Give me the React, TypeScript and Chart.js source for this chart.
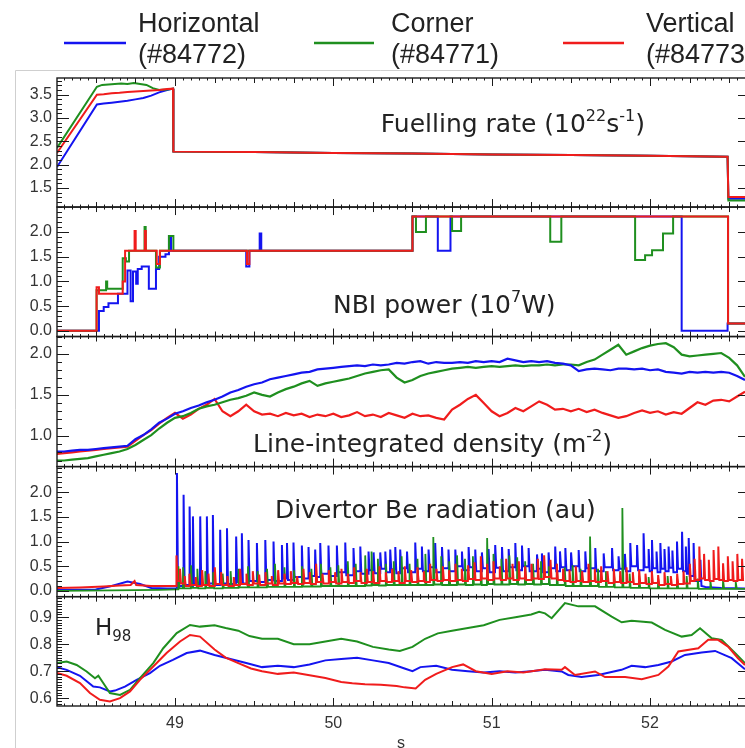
import React, { useEffect, useRef } from 'react';
import { Chart, registerables } from 'chart.js';

Chart.register(...registerables);

const C_BLUE = '#1414f0';
const C_GREEN = '#1f8f1f';
const C_RED = '#f01c1c';

// ---------------- legend ----------------
const legendNames = ['Horizontal', 'Corner', 'Vertical'];
const legendShots = ['(#84772)', '(#84771)', '(#84773)'];
const legendColors = [C_BLUE, C_GREEN, C_RED];

// ---------------- axes ----------------
const xTickLabels = [49, 50, 51, 52];
const fuelTicks = [1.5, 2.0, 2.5, 3.0, 3.5];
const nbiTicks = [0.0, 0.5, 1.0, 1.5, 2.0];
const denTicks = [1.0, 1.5, 2.0];
const beTicks = [0.0, 0.5, 1.0, 1.5, 2.0];
const h98Ticks = [0.6, 0.7, 0.8, 0.9];

// ---------------- panel 1: fuelling rate ----------------
const fuelT_red = [48.255, 48.507, 48.55, 48.60, 48.65, 48.70, 48.75, 48.80, 48.85, 48.90, 48.95, 48.988, 48.990, 49.5, 50.0, 50.5, 51.0, 51.5, 52.0, 52.490, 52.495, 52.60];
const fuelV_red = [2.25, 3.50, 3.51, 3.53, 3.54, 3.56, 3.57, 3.58, 3.59, 3.60, 3.62, 3.63, 2.28, 2.27, 2.25, 2.24, 2.22, 2.21, 2.19, 2.17, 1.31, 1.31];
const fuelT_green = [48.255, 48.507, 48.54, 48.58, 48.62, 48.66, 48.70, 48.74, 48.78, 48.82, 48.86, 48.90, 48.95, 48.988, 48.990, 49.5, 50.0, 50.5, 51.0, 51.5, 52.0, 52.490, 52.495, 52.60];
const fuelV_green = [2.36, 3.67, 3.71, 3.72, 3.73, 3.74, 3.73, 3.75, 3.73, 3.71, 3.64, 3.60, 3.61, 3.63, 2.28, 2.27, 2.25, 2.24, 2.22, 2.21, 2.19, 2.17, 1.23, 1.23];
const fuelT_blue = [48.255, 48.507, 48.55, 48.60, 48.65, 48.70, 48.75, 48.80, 48.85, 48.90, 48.95, 48.988, 48.990, 49.5, 50.0, 50.5, 51.0, 51.5, 52.0, 52.490, 52.495, 52.60];
const fuelV_blue = [1.95, 3.29, 3.31, 3.33, 3.35, 3.37, 3.40, 3.43, 3.48, 3.55, 3.60, 3.63, 2.28, 2.27, 2.25, 2.24, 2.22, 2.21, 2.19, 2.17, 1.27, 1.27];

// ---------------- panel 2: NBI power ----------------
const nbiT_red = [48.255, 48.505, 48.505, 48.52, 48.52, 48.67, 48.67, 48.685, 48.685, 48.745, 48.745, 48.752, 48.752, 48.81, 48.81, 48.816, 48.816, 48.885, 48.885, 48.905, 48.905, 49.455, 49.455, 49.47, 49.47, 50.50, 50.50, 52.493, 52.493, 52.60];
const nbiV_red = [0, 0, 0.88, 0.88, 0.75, 0.75, 1.00, 1.00, 1.62, 1.62, 2.02, 2.02, 1.62, 1.62, 2.02, 2.02, 1.62, 1.62, 1.35, 1.35, 1.62, 1.62, 1.35, 1.35, 1.62, 1.62, 2.31, 2.31, 0.15, 0.15];
const nbiT_green = [48.255, 48.505, 48.505, 48.565, 48.565, 48.572, 48.572, 48.67, 48.67, 48.69, 48.69, 48.71, 48.71, 48.808, 48.808, 48.815, 48.815, 48.88, 48.88, 48.905, 48.905, 48.962, 48.962, 48.99, 48.99, 50.50, 50.50, 50.522, 50.522, 50.585, 50.585, 50.75, 50.75, 50.807, 50.807, 51.37, 51.37, 51.44, 51.44, 51.906, 51.906, 51.969, 51.969, 52.013, 52.013, 52.082, 52.082, 52.146, 52.146, 52.493, 52.493, 52.60];
const nbiV_green = [0, 0, 0.82, 0.82, 1.00, 1.00, 0.85, 0.85, 1.47, 1.47, 1.40, 1.40, 1.62, 1.62, 2.10, 2.10, 1.62, 1.62, 1.28, 1.28, 1.62, 1.62, 1.92, 1.92, 1.62, 1.62, 2.31, 2.31, 2.00, 2.00, 2.31, 2.31, 2.02, 2.02, 2.31, 2.31, 1.80, 1.80, 2.31, 2.31, 1.43, 1.43, 1.53, 1.53, 1.63, 1.63, 1.97, 1.97, 2.31, 2.31, 0.15, 0.15];
const nbiT_blue = [48.255, 48.52, 48.52, 48.55, 48.55, 48.58, 48.58, 48.64, 48.64, 48.70, 48.70, 48.72, 48.72, 48.735, 48.735, 48.755, 48.755, 48.765, 48.765, 48.79, 48.79, 48.835, 48.835, 48.88, 48.88, 48.90, 48.90, 48.94, 48.94, 48.962, 48.962, 48.975, 48.975, 49.45, 49.45, 49.47, 49.47, 49.535, 49.535, 49.545, 49.545, 50.50, 50.50, 50.66, 50.66, 50.74, 50.74, 52.20, 52.20, 52.49, 52.49, 52.60];
const nbiV_blue = [0, 0, 0.40, 0.40, 0.48, 0.48, 0.56, 0.56, 0.75, 0.75, 1.22, 1.22, 0.60, 0.60, 1.20, 1.20, 0.95, 0.95, 1.25, 1.25, 1.30, 1.30, 0.85, 0.85, 1.25, 1.25, 1.50, 1.50, 1.55, 1.55, 1.92, 1.92, 1.62, 1.62, 1.30, 1.30, 1.62, 1.62, 1.97, 1.97, 1.62, 1.62, 2.31, 2.31, 1.62, 1.62, 2.31, 2.31, 0.00, 0.00, 0.15, 0.15];

// ---------------- panel 3: line-integrated density ----------------
const denT = [48.25, 48.30, 48.35, 48.40, 48.45, 48.50, 48.55, 48.60, 48.65, 48.70,
  48.75, 48.80, 48.85, 48.90, 48.95, 49.00, 49.05, 49.10, 49.15, 49.20,
  49.25, 49.30, 49.35, 49.40, 49.45, 49.50, 49.55, 49.60, 49.65, 49.70,
  49.75, 49.80, 49.85, 49.90, 49.95, 50.00, 50.05, 50.10, 50.15, 50.20,
  50.25, 50.30, 50.35, 50.40, 50.45, 50.50, 50.55, 50.60, 50.65, 50.70,
  50.75, 50.80, 50.85, 50.90, 50.95, 51.00, 51.05, 51.10, 51.15, 51.20,
  51.25, 51.30, 51.35, 51.40, 51.45, 51.50, 51.55, 51.60, 51.65, 51.70,
  51.75, 51.80, 51.85, 51.90, 51.95, 52.00, 52.05, 52.10, 52.15, 52.20,
  52.25, 52.30, 52.35, 52.40, 52.45, 52.50, 52.55, 52.60];
const denV_blue = [0.81, 0.81, 0.82, 0.83, 0.83, 0.84, 0.85, 0.86, 0.87, 0.88,
  0.96, 1.01, 1.08, 1.16, 1.21, 1.27, 1.30, 1.34, 1.37, 1.41,
  1.44, 1.48, 1.53, 1.56, 1.60, 1.63, 1.65, 1.69, 1.71, 1.73,
  1.75, 1.77, 1.78, 1.81, 1.82, 1.83, 1.84, 1.85, 1.86, 1.85,
  1.87, 1.86, 1.87, 1.89, 1.88, 1.90, 1.91, 1.88, 1.90, 1.89,
  1.89, 1.90, 1.89, 1.91, 1.90, 1.91, 1.90, 1.94, 1.92, 1.90,
  1.91, 1.90, 1.91, 1.89, 1.88, 1.86, 1.79, 1.81, 1.82, 1.81,
  1.80, 1.82, 1.82, 1.81, 1.82, 1.80, 1.81, 1.78, 1.77, 1.76,
  1.78, 1.77, 1.78, 1.77, 1.78, 1.77, 1.73, 1.68];
const denV_red = [0.78, 0.79, 0.80, 0.81, 0.82, 0.83, 0.84, 0.85, 0.86, 0.87,
  0.94, 1.01, 1.07, 1.15, 1.22, 1.28, 1.21, 1.26, 1.33, 1.38,
  1.45, 1.30, 1.24, 1.30, 1.38, 1.30, 1.26, 1.27, 1.24, 1.28,
  1.25, 1.27, 1.23, 1.26, 1.24, 1.27, 1.23, 1.25, 1.29, 1.24,
  1.26, 1.23, 1.28, 1.25, 1.22, 1.27, 1.24, 1.25, 1.22, 1.20,
  1.32, 1.38, 1.45, 1.50, 1.40, 1.30, 1.24, 1.28, 1.34, 1.30,
  1.36, 1.42, 1.38, 1.32, 1.33, 1.30, 1.33, 1.29, 1.32, 1.28,
  1.25, 1.22, 1.24, 1.28, 1.31, 1.28, 1.30, 1.26, 1.29, 1.27,
  1.34, 1.41, 1.38, 1.43, 1.44, 1.42, 1.48, 1.54];
const denV_green = [0.70, 0.70, 0.71, 0.72, 0.73, 0.75, 0.77, 0.79, 0.81, 0.84,
  0.89, 0.95, 1.01, 1.09, 1.16, 1.22, 1.24, 1.28, 1.33, 1.36,
  1.38, 1.41, 1.44, 1.46, 1.49, 1.53, 1.50, 1.48, 1.53, 1.57,
  1.60, 1.64, 1.67, 1.61, 1.64, 1.66, 1.68, 1.70, 1.73, 1.76,
  1.78, 1.80, 1.81, 1.71, 1.65, 1.68, 1.73, 1.76, 1.78, 1.80,
  1.82, 1.83, 1.84, 1.83, 1.84, 1.85, 1.84, 1.85, 1.86, 1.85,
  1.86, 1.86, 1.87, 1.86, 1.87, 1.87, 1.86, 1.90, 1.93, 1.99,
  2.05, 2.11, 1.99, 2.03, 2.07, 2.10, 2.12, 2.13, 2.08, 1.99,
  1.97, 1.98, 1.99, 2.00, 2.01, 1.95, 1.86, 1.72];

// ---------------- panel 4: divertor Be radiation (ELM spikes) ----------------
const bePreT_blue = [48.255, 48.50, 48.60, 48.70, 48.78, 48.85, 48.95, 49.005];
const bePreV_blue = [0.02, 0.03, 0.10, 0.19, 0.14, 0.06, 0.05, 0.05];
const beSpikeT_blue = [49.011, 49.053, 49.091, 49.112, 49.158, 49.200, 49.238, 49.284, 49.327, 49.385,
  49.421, 49.463, 49.516, 49.569, 49.621, 49.674, 49.706, 49.747, 49.800, 49.842,
  49.884, 49.916, 49.968, 50.021, 50.074, 50.126, 50.169, 50.221, 50.253, 50.295,
  50.327, 50.358, 50.390, 50.421, 50.464, 50.516, 50.558, 50.600, 50.642, 50.685,
  50.726, 50.769, 50.811, 50.853, 50.895, 50.937, 50.979, 51.021, 51.064, 51.106,
  51.148, 51.190, 51.232, 51.285, 51.316, 51.358, 51.400, 51.430, 51.464, 51.500,
  51.548, 51.590, 51.653, 51.706, 51.759, 51.800, 51.840, 51.874, 51.917, 51.958,
  51.990, 52.011, 52.040, 52.064, 52.090, 52.116, 52.140, 52.169, 52.201, 52.225,
  52.243, 52.274, 52.317];
const beSpikeV_blue = [2.39, 1.95, 1.71, 1.51, 1.51, 1.51, 1.54, 1.24, 1.27, 1.10,
  1.17, 1.03, 0.97, 1.03, 1.00, 0.93, 0.97, 0.98, 0.92, 0.89,
  0.84, 0.97, 0.92, 0.92, 0.98, 0.87, 0.90, 0.80, 0.78, 0.78,
  0.80, 0.84, 0.89, 0.84, 0.80, 0.98, 0.90, 0.84, 0.97, 0.89,
  0.84, 0.84, 0.80, 0.89, 0.84, 0.78, 0.85, 0.93, 0.89, 0.85,
  0.97, 0.92, 0.87, 0.74, 0.76, 0.78, 0.90, 0.80, 0.87, 0.78,
  0.83, 0.80, 0.87, 0.76, 0.87, 0.70, 0.75, 0.97, 0.93, 1.17,
  0.85, 1.03, 0.80, 0.97, 0.85, 0.90, 0.82, 1.00, 1.20, 0.90,
  1.07, 0.97, 0.63];
const beFloor_blue = [0.10, 0.12, 0.10, 0.14, 0.12, 0.15, 0.12, 0.15, 0.14, 0.18,
  0.15, 0.20, 0.18, 0.22, 0.20, 0.25, 0.22, 0.28, 0.25, 0.30,
  0.28, 0.35, 0.30, 0.38, 0.32, 0.40, 0.35, 0.42, 0.36, 0.45,
  0.38, 0.44, 0.36, 0.46, 0.38, 0.45, 0.40, 0.48, 0.38, 0.46,
  0.40, 0.50, 0.42, 0.48, 0.40, 0.46, 0.38, 0.47, 0.40, 0.48,
  0.42, 0.50, 0.40, 0.45, 0.38, 0.46, 0.40, 0.48, 0.42, 0.50,
  0.40, 0.46, 0.40, 0.48, 0.42, 0.45, 0.40, 0.50, 0.42, 0.48,
  0.40, 0.46, 0.38, 0.45, 0.40, 0.47, 0.38, 0.45, 0.40, 0.35,
  0.30, 0.20, 0.10];
const beTailT_blue = [52.35, 52.45, 52.60];
const beTailV_blue = [0.08, 0.06, 0.05];

const bePreT_red = [48.255, 48.40, 48.55, 48.65, 48.72, 48.745, 48.755, 48.85, 48.95, 49.004];
const bePreV_red = [0.06, 0.07, 0.09, 0.11, 0.12, 0.20, 0.12, 0.10, 0.10, 0.10];
const beSpikeT_red = [49.008, 49.03, 49.06, 49.09, 49.13, 49.17, 49.21, 49.25, 49.29, 49.33,
  49.37, 49.41, 49.45, 49.49, 49.53, 49.57, 49.61, 49.65, 49.69, 49.73,
  49.77, 49.81, 49.85, 49.89, 49.93, 49.97, 50.01, 50.05, 50.09, 50.13,
  50.17, 50.21, 50.25, 50.29, 50.33, 50.37, 50.41, 50.45, 50.49, 50.53,
  50.57, 50.61, 50.65, 50.69, 50.73, 50.77, 50.81, 50.85, 50.89, 50.93,
  50.97, 51.01, 51.05, 51.09, 51.13, 51.17, 51.21, 51.25, 51.29, 51.33,
  51.37, 51.41, 51.45, 51.49, 51.53, 51.57, 51.61, 51.65, 51.69, 51.73,
  51.77, 51.81, 51.85, 51.89, 51.93, 51.97, 52.01, 52.05, 52.09, 52.13,
  52.17, 52.21, 52.25, 52.28, 52.31, 52.34, 52.37, 52.40, 52.43, 52.46,
  52.49, 52.52, 52.55, 52.58];
const beSpikeV_red = [0.72, 0.45, 0.30, 0.35, 0.28, 0.42, 0.35, 0.48, 0.38, 0.30,
  0.28, 0.45, 0.35, 0.40, 0.33, 0.38, 0.30, 0.42, 0.35, 0.40,
  0.30, 0.45, 0.38, 0.55, 0.35, 0.42, 0.38, 0.45, 0.35, 0.48,
  0.38, 0.45, 0.40, 0.50, 0.38, 0.45, 0.40, 0.50, 0.42, 0.48,
  0.40, 0.55, 0.45, 0.50, 0.42, 0.55, 0.45, 0.52, 0.58, 0.70,
  0.55, 0.60, 0.50, 0.65, 0.55, 0.60, 0.50, 0.55, 0.65, 0.72,
  0.63, 0.55, 0.45, 0.43, 0.50, 0.40, 0.55, 0.45, 0.50, 0.40,
  0.45, 0.40, 0.48, 0.38, 0.43, 0.35, 0.40, 0.32, 0.38, 0.30,
  0.35, 0.40, 0.55, 0.65, 0.90, 0.75, 0.63, 0.83, 0.90, 0.56,
  0.70, 0.60, 0.75, 0.65];
const beFloor_red = [0.20, 0.15, 0.10, 0.12, 0.10, 0.12, 0.10, 0.14, 0.12, 0.10,
  0.12, 0.14, 0.12, 0.15, 0.12, 0.15, 0.12, 0.15, 0.14, 0.16,
  0.14, 0.16, 0.14, 0.18, 0.15, 0.18, 0.15, 0.18, 0.16, 0.20,
  0.16, 0.18, 0.16, 0.20, 0.18, 0.20, 0.16, 0.20, 0.18, 0.20,
  0.18, 0.22, 0.20, 0.22, 0.20, 0.22, 0.20, 0.24, 0.22, 0.25,
  0.22, 0.25, 0.22, 0.25, 0.22, 0.25, 0.22, 0.25, 0.24, 0.28,
  0.25, 0.22, 0.20, 0.18, 0.20, 0.18, 0.20, 0.18, 0.20, 0.16,
  0.18, 0.16, 0.18, 0.14, 0.16, 0.14, 0.16, 0.12, 0.14, 0.12,
  0.14, 0.15, 0.20, 0.22, 0.25, 0.22, 0.20, 0.24, 0.22, 0.20,
  0.22, 0.20, 0.22, 0.20];

const bePreT_green = [48.255, 48.60, 48.90, 49.015];
const bePreV_green = [0.00, 0.01, 0.02, 0.03];
const beSpikeT_green = [49.02, 49.05, 49.10, 49.14, 49.19, 49.24, 49.30, 49.35, 49.40, 49.46,
  49.52, 49.58, 49.63, 49.69, 49.75, 49.80, 49.86, 49.92, 49.98, 50.03,
  50.09, 50.14, 50.20, 50.24, 50.28, 50.33, 50.38, 50.43, 50.48, 50.53,
  50.58, 50.63, 50.68, 50.73, 50.78, 50.83, 50.88, 50.93, 50.97, 51.01,
  51.06, 51.11, 51.16, 51.21, 51.26, 51.31, 51.36, 51.41, 51.46, 51.51,
  51.56, 51.62, 51.67, 51.72, 51.77, 51.824, 51.87, 51.93, 51.99, 52.05,
  52.11, 52.17, 52.23, 52.30, 52.38, 52.46, 52.54];
const beSpikeV_green = [0.50, 0.48, 0.52, 0.45, 0.40, 0.38, 0.35, 0.40, 0.45, 0.50,
  0.40, 0.45, 0.55, 0.48, 0.42, 0.50, 0.45, 0.55, 0.48, 0.52,
  0.60, 0.55, 0.72, 0.80, 0.65, 0.55, 0.60, 0.70, 0.55, 0.65,
  0.75, 1.09, 0.70, 0.60, 0.72, 0.65, 0.70, 0.62, 1.07, 0.75,
  0.65, 0.72, 0.68, 0.60, 0.55, 0.60, 0.50, 0.55, 0.48, 0.52,
  0.45, 1.10, 0.45, 0.40, 0.42, 1.68, 0.35, 0.30, 0.28, 0.25,
  0.30, 0.25, 0.30, 0.25, 0.20, 0.22, 0.18];
const beFloor_green = [0.05, 0.05, 0.06, 0.05, 0.06, 0.05, 0.06, 0.06, 0.07, 0.07,
  0.07, 0.08, 0.08, 0.08, 0.08, 0.09, 0.09, 0.10, 0.10, 0.10,
  0.10, 0.10, 0.11, 0.12, 0.11, 0.12, 0.12, 0.12, 0.12, 0.12,
  0.12, 0.13, 0.12, 0.12, 0.13, 0.12, 0.13, 0.12, 0.14, 0.13,
  0.13, 0.14, 0.13, 0.14, 0.13, 0.14, 0.12, 0.12, 0.10, 0.10,
  0.10, 0.10, 0.08, 0.08, 0.07, 0.07, 0.06, 0.06, 0.05, 0.05,
  0.05, 0.05, 0.05, 0.04, 0.04, 0.04, 0.04];
const beTailT_green = [52.60];
const beTailV_green = [0.04];

// ---------------- panel 5: H98 ----------------
const h98T_blue = [48.255, 48.316, 48.40, 48.484, 48.526, 48.589, 48.621, 48.684, 48.758, 48.842, 48.905, 48.987, 49.074, 49.158,
  49.25, 49.35, 49.45, 49.55, 49.65, 49.75, 49.85, 49.95, 50.05, 50.15, 50.25, 50.35, 50.45, 50.50, 50.55, 50.65, 50.75, 50.85, 50.95, 51.05, 51.15, 51.25,
  51.337, 51.442, 51.484, 51.568, 51.673, 51.82, 51.884, 51.969, 52.053, 52.137, 52.221, 52.326, 52.411, 52.516, 52.60];
const h98V_blue = [0.715, 0.705, 0.683, 0.643, 0.640, 0.625, 0.628, 0.643, 0.668, 0.693, 0.720, 0.742, 0.767, 0.776,
  0.760, 0.745, 0.730, 0.715, 0.720, 0.715, 0.725, 0.740, 0.745, 0.750, 0.740, 0.730, 0.710, 0.700, 0.715, 0.720, 0.705, 0.700, 0.695, 0.700, 0.695, 0.700,
  0.705, 0.699, 0.686, 0.678, 0.686, 0.705, 0.720, 0.715, 0.723, 0.736, 0.760, 0.769, 0.775, 0.748, 0.707];
const h98T_red = [48.255, 48.316, 48.40, 48.463, 48.526, 48.589, 48.653, 48.716, 48.779, 48.863, 48.947, 49.032, 49.095, 49.158,
  49.25, 49.32, 49.40, 49.48, 49.55, 49.65, 49.75, 49.85, 49.95, 50.05, 50.12, 50.20, 50.30, 50.40, 50.45, 50.52, 50.58, 50.65, 50.75, 50.82, 50.90, 51.00, 51.10, 51.20,
  51.337, 51.442, 51.463, 51.526, 51.653, 51.716, 51.843, 51.948, 52.053, 52.116, 52.179, 52.305, 52.368, 52.430, 52.493, 52.556, 52.60];
const h98V_red = [0.693, 0.683, 0.656, 0.619, 0.594, 0.588, 0.600, 0.625, 0.668, 0.717, 0.767, 0.810, 0.834, 0.828,
  0.780, 0.750, 0.730, 0.710, 0.700, 0.690, 0.695, 0.685, 0.675, 0.660, 0.655, 0.652, 0.650, 0.645, 0.640, 0.636, 0.668, 0.690, 0.715, 0.725, 0.700, 0.690, 0.700, 0.695,
  0.707, 0.705, 0.715, 0.686, 0.699, 0.678, 0.678, 0.670, 0.686, 0.717, 0.773, 0.785, 0.816, 0.816, 0.791, 0.748, 0.723];
const h98T_green = [48.255, 48.316, 48.379, 48.442, 48.495, 48.516, 48.547, 48.589, 48.653, 48.716, 48.779, 48.863, 48.926, 49.011, 49.095, 49.158,
  49.25, 49.32, 49.40, 49.47, 49.55, 49.65, 49.75, 49.85, 49.95, 50.05, 50.15, 50.25, 50.35, 50.42, 50.50, 50.58, 50.66, 50.75, 50.85, 50.95, 51.05, 51.15, 51.25, 51.30,
  51.337, 51.379, 51.463, 51.547, 51.653, 51.758, 51.821, 51.884, 52.011, 52.095, 52.200, 52.263, 52.316, 52.390, 52.453, 52.537, 52.60];
const h98V_green = [0.730, 0.736, 0.723, 0.699, 0.674, 0.683, 0.656, 0.619, 0.612, 0.631, 0.674, 0.730, 0.785, 0.841, 0.871, 0.865,
  0.870, 0.860, 0.850, 0.830, 0.820, 0.820, 0.800, 0.800, 0.810, 0.820, 0.810, 0.790, 0.780, 0.775, 0.790, 0.820, 0.840, 0.850, 0.860, 0.870, 0.890, 0.900, 0.910, 0.920,
  0.914, 0.896, 0.952, 0.940, 0.940, 0.902, 0.881, 0.887, 0.880, 0.853, 0.828, 0.834, 0.859, 0.822, 0.816, 0.767, 0.730];

// ---------------- helpers ----------------
const zip = (T: number[], V: number[]) =>
  T.slice(0, Math.min(T.length, V.length)).map((t, i) => ({ x: t, y: V[i] }));

function spikeSeries(preT: number[], preV: number[], sT: number[], sP: number[], sF: number[], tailT: number[], tailV: number[]) {
  const pts = zip(preT, preV);
  let floor = preV[preV.length - 1];
  const n = Math.min(sT.length, sP.length, sF.length);
  for (let i = 0; i < n; i++) {
    pts.push({ x: sT[i], y: floor });
    pts.push({ x: sT[i] + 0.0015, y: sP[i] });
    pts.push({ x: sT[i] + 0.008, y: sF[i] });
    floor = sF[i];
  }
  return pts.concat(zip(tailT, tailV));
}

const TICK_FONT = '"Liberation Sans", Arial, Helvetica, sans-serif';
const TITLE_FONT = '"DejaVu Sans", Verdana, sans-serif';

const panelDefs = [
  { id: 'yFuel', ticks: fuelTicks, minor: 0.1 },
  { id: 'yNbi', ticks: nbiTicks, minor: 0.1 },
  { id: 'yDen', ticks: denTicks, minor: 0.1 },
  { id: 'yBe', ticks: beTicks, minor: 0.1 },
  { id: 'yH', ticks: h98Ticks, minor: 0.01 },
];

// annotation texts anchored in data coordinates: [text, mode] (0 normal, 1 sup, -1 sub)
const panelTitles: { axis: string; t: number; v: number; size: number; parts: [string, number][] }[] = [
  { axis: 'yFuel', t: 50.30, v: 2.706, size: 25, parts: [['Fuelling rate (10', 0], ['22', 1], ['s', 0], ['-1', 1], [')', 0]] },
  { axis: 'yNbi', t: 49.998, v: 0.362, size: 25, parts: [['NBI power (10', 0], ['7', 1], ['W)', 0]] },
  { axis: 'yDen', t: 49.493, v: 0.805, size: 25, parts: [['Line-integrated density (m', 0], ['-2', 1], [')', 0]] },
  { axis: 'yBe', t: 49.632, v: 1.48, size: 25, parts: [['Divertor Be radiation (au)', 0]] },
  { axis: 'yH', t: 48.495, v: 0.834, size: 23, parts: [['H', 0], ['98', -1]] },
];

function drawParts(ctx: CanvasRenderingContext2D, x: number, y: number, parts: [string, number][], size: number) {
  let cx = x;
  for (const [txt, mode] of parts) {
    const fs = mode === 0 ? size : Math.round(size * 0.64);
    ctx.font = `${fs}px ${TITLE_FONT}`;
    const dy = mode === 1 ? -size * 0.42 : mode === -1 ? size * 0.28 : 0;
    ctx.fillText(txt, cx, y + dy);
    cx += ctx.measureText(txt).width;
  }
}

const framePlugin = {
  id: 'panelFrames',
  afterDatasetsDraw(chart: any) {
    const ctx: CanvasRenderingContext2D = chart.ctx;
    const xs = chart.scales.x;
    const L = xs.left, R = xs.right;
    ctx.save();
    // faint figure border
    ctx.strokeStyle = '#cfcfcf';
    ctx.lineWidth = 1;
    ctx.beginPath();
    ctx.moveTo(15.5, 748); ctx.lineTo(15.5, 70.5); ctx.lineTo(745, 70.5);
    ctx.stroke();

    ctx.strokeStyle = '#1a1a1a';
    for (const p of panelDefs) {
      const ys = chart.scales[p.id];
      const T = ys.top, B = ys.bottom;
      ctx.lineWidth = 1.4;
      ctx.strokeRect(L, T, R - L + 2, B - T);
      ctx.lineWidth = 1;
      ctx.beginPath();
      const lo = Math.ceil(ys.min / p.minor - 1e-6), hi = Math.floor(ys.max / p.minor + 1e-6);
      for (let k = lo; k <= hi; k++) {
        const y = Math.round(ys.getPixelForValue(k * p.minor)) + 0.5;
        ctx.moveTo(L, y); ctx.lineTo(L + 5, y);
      }
      for (const v of p.ticks) {
        const y = Math.round(ys.getPixelForValue(v)) + 0.5;
        ctx.moveTo(L, y); ctx.lineTo(L + 12, y);
        ctx.moveTo(R, y); ctx.lineTo(R - 7, y);
      }
      const k0 = Math.ceil(xs.min / 0.05), k1 = Math.floor(xs.max / 0.05);
      for (let k = k0; k <= k1; k++) {
        const x = Math.round(xs.getPixelForValue(k * 0.05)) + 0.5;
        const len = k % 20 === 0 ? 8 : (k % 5 === 0 ? 5 : 2.5);
        ctx.moveTo(x, T); ctx.lineTo(x, T + len);
        ctx.moveTo(x, B); ctx.lineTo(x, B - len);
      }
      ctx.stroke();
    }

    // panel titles
    ctx.fillStyle = '#222';
    ctx.textBaseline = 'alphabetic';
    ctx.textAlign = 'left';
    for (const a of panelTitles) {
      const ys = chart.scales[a.axis];
      const x = xs.getPixelForValue(a.t);
      const y = ys.getPixelForValue(a.v);
      drawParts(ctx, x, y, a.parts, a.size);
    }

    // legend
    const lineX = [[64, 126], [314, 374], [563, 624]];
    const textX = [138, 391, 646];
    ctx.font = `27px ${TICK_FONT}`;
    for (let i = 0; i < legendNames.length; i++) {
      ctx.strokeStyle = legendColors[i];
      ctx.lineWidth = 2.5;
      ctx.beginPath();
      ctx.moveTo(lineX[i][0], 43); ctx.lineTo(lineX[i][1], 43);
      ctx.stroke();
      ctx.fillStyle = '#222';
      ctx.fillText(legendNames[i], textX[i], 32);
      ctx.fillText(legendShots[i], textX[i], 63);
    }
    ctx.restore();
  },
};

function yAxis(min: number, max: number, ticks: number[], stackWeight: number, weight: number) {
  return {
    type: 'linear',
    position: 'left',
    stack: 'panels',
    stackWeight,
    weight,
    min,
    max,
    bounds: 'data',
    grid: { display: false, drawTicks: false },
    border: { display: false },
    ticks: {
      font: { family: TICK_FONT, size: 16 },
      color: '#333',
      padding: 5,
      autoSkip: false,
      callback: (v: any) => Number(v).toFixed(1),
    },
    afterBuildTicks: (s: any) => { s.ticks = ticks.map((v) => ({ value: v })); },
    afterFit: (s: any) => { s.width = 57; },
  };
}

export default function App() {
  const ref = useRef<HTMLCanvasElement>(null);
  useEffect(() => {
    if (!ref.current) return;
    const common = { pointRadius: 0, tension: 0, fill: false, borderWidth: 2 };
    const ds = (label: string, data: any[], color: string, axis: string, bw = 2) => ({
      ...common, label, data, borderColor: color, backgroundColor: color, yAxisID: axis, borderWidth: bw,
    });
    const datasets = [
      ds('Vertical fuelling', zip(fuelT_red, fuelV_red), C_RED, 'yFuel'),
      ds('Corner fuelling', zip(fuelT_green, fuelV_green), C_GREEN, 'yFuel'),
      ds('Horizontal fuelling', zip(fuelT_blue, fuelV_blue), C_BLUE, 'yFuel'),
      ds('Vertical NBI', zip(nbiT_red, nbiV_red), C_RED, 'yNbi'),
      ds('Corner NBI', zip(nbiT_green, nbiV_green), C_GREEN, 'yNbi'),
      ds('Horizontal NBI', zip(nbiT_blue, nbiV_blue), C_BLUE, 'yNbi'),
      ds('Horizontal density', zip(denT, denV_blue), C_BLUE, 'yDen', 2.2),
      ds('Corner density', zip(denT, denV_green), C_GREEN, 'yDen', 2.2),
      ds('Vertical density', zip(denT, denV_red), C_RED, 'yDen', 2.2),
      ds('Vertical Be', spikeSeries(bePreT_red, bePreV_red, beSpikeT_red, beSpikeV_red, beFloor_red, [], []), C_RED, 'yBe', 2),
      ds('Corner Be', spikeSeries(bePreT_green, bePreV_green, beSpikeT_green, beSpikeV_green, beFloor_green, beTailT_green, beTailV_green), C_GREEN, 'yBe', 1.8),
      ds('Horizontal Be', spikeSeries(bePreT_blue, bePreV_blue, beSpikeT_blue, beSpikeV_blue, beFloor_blue, beTailT_blue, beTailV_blue), C_BLUE, 'yBe', 2),
      ds('Vertical H98', zip(h98T_red, h98V_red), C_RED, 'yH', 2),
      ds('Corner H98', zip(h98T_green, h98V_green), C_GREEN, 'yH', 2),
      ds('Horizontal H98', zip(h98T_blue, h98V_blue), C_BLUE, 'yH', 2),
    ];
    const chart = new Chart(ref.current, {
      type: 'line',
      data: { datasets } as any,
      options: {
        responsive: false,
        animation: false,
        devicePixelRatio: 1,
        parsing: false,
        layout: { padding: { top: 78, left: 0, right: 0, bottom: 0 } },
        plugins: { legend: { display: false }, tooltip: { enabled: false } },
        scales: {
          x: {
            type: 'linear',
            position: 'bottom',
            min: 48.255,
            max: 52.60,
            grid: { display: false, drawTicks: false },
            border: { display: false },
            ticks: {
              font: { family: TICK_FONT, size: 16 },
              color: '#333',
              padding: 8,
              maxRotation: 0,
              autoSkip: false,
              callback: (v: any) => String(v),
            },
            afterBuildTicks: (s: any) => { s.ticks = xTickLabels.map((v) => ({ value: v })); },
            afterFit: (s: any) => { s.height = 42; },
            title: { display: true, text: 's', color: '#333', font: { family: TICK_FONT, size: 16, lineHeight: 0.6 }, padding: 0 },
          },
          yH: yAxis(0.571, 0.976, h98Ticks, 109.3, 1),
          yBe: yAxis(-0.116, 2.519, beTicks, 130, 2),
          yDen: yAxis(0.626, 2.211, denTicks, 130, 3),
          yNbi: yAxis(-0.115, 2.503, nbiTicks, 129.4, 4),
          yFuel: yAxis(1.092, 3.858, fuelTicks, 129, 5),
        } as any,
      },
      plugins: [framePlugin as any],
    });
    return () => chart.destroy();
  }, []);
  return (
    <div style={{ position: 'absolute', left: 0, top: 0, width: 745, height: 748, background: '#fff' }}>
      <canvas ref={ref} width={745} height={748} style={{ display: 'block' }} />
    </div>
  );
}
